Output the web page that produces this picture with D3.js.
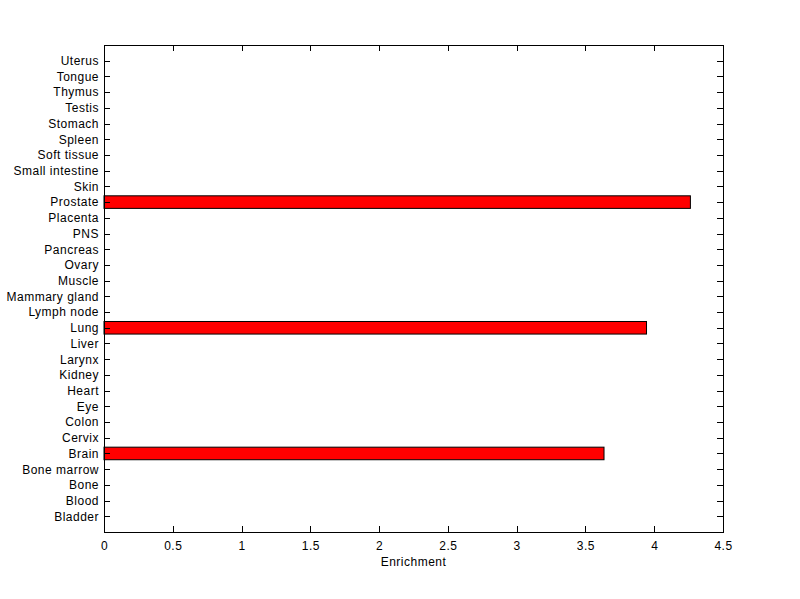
<!DOCTYPE HTML>
<html>
<head>
  <title>Enrichment</title>
  <script src="https://d3js.org/d3.v7.min.js"></script>
  <style>
    body, html {
      margin: 0;
      background: #fff;
    }
    text {
      font-family: "Liberation Sans", Arial, sans-serif;
      font-size: 12px;
      letter-spacing: 0.5px;
      fill: #000;
    }
  </style>
</head>
<body>
<svg id="chart" width="800" height="599"></svg>

<script type="text/javascript">

// Tissues, bottom to top
const tissues = ["Bladder", "Blood", "Bone", "Bone marrow", "Brain", "Cervix", "Colon", "Eye",
  "Heart", "Kidney", "Larynx", "Liver", "Lung", "Lymph node", "Mammary gland", "Muscle",
  "Ovary", "Pancreas", "PNS", "Placenta", "Prostate", "Skin", "Small intestine",
  "Soft tissue", "Spleen", "Stomach", "Testis", "Thymus", "Tongue", "Uterus"];

// Enrichment per tissue (0 = no bar)
const enrichment = [0, 0, 0, 0, 3.635, 0, 0, 0, 0, 0, 0, 0, 3.944, 0, 0, 0,
  0, 0, 0, 0, 4.263, 0, 0, 0, 0, 0, 0, 0, 0, 0];

const xTicks = [0, 0.5, 1, 1.5, 2, 2.5, 3, 3.5, 4, 4.5];

const margin = {left: 104, right: 77, top: 45, bottom: 67};
const width = 800 - margin.left - margin.right;
const height = 599 - margin.top - margin.bottom;

const svg = d3.select("#chart");
const g = svg.append("g")
    .attr("transform", "translate(" + margin.left + "," + margin.top + ")");

const x = d3.scaleLinear().domain([0, 4.5]).range([0, width]);
// positions 1..30 on a 0..31 axis
const y = d3.scaleLinear().domain([0, tissues.length + 1]).range([height, 0]);
const barH = (y(0) - y(1)) * 0.8;

// Bars
g.selectAll(".bar")
    .data(tissues.map((t, i) => ({name: t, value: enrichment[i], pos: i + 1})).filter(d => d.value > 0))
  .enter().append("rect")
    .attr("class", "bar")
    .attr("x", x(0))
    .attr("y", d => y(d.pos) - barH / 2)
    .attr("width", d => x(d.value) - x(0))
    .attr("height", barH)
    .style("fill", "#ff0000")
    .style("stroke", "#000")
    .style("stroke-width", 1);

// Axes (labels only, ticks drawn by hand below)
const tickLen = 6;

const bottomAxis = d3.axisBottom(x).tickValues(xTicks).tickSize(0).tickPadding(9)
    .tickFormat(d3.format("~g"));
const leftAxis = d3.axisLeft(y).tickValues(d3.range(1, tissues.length + 1))
    .tickSize(0).tickPadding(5).tickFormat(d => tissues[d - 1]);

const ax = g.append("g").attr("transform", "translate(0," + height + ")").call(bottomAxis);
const ay = g.append("g").call(leftAxis);
[ax, ay].forEach(a => {
  a.select(".domain").remove();
  // let the stylesheet decide the font
  a.attr("font-family", null).attr("font-size", null);
});

// Inward ticks on all four sides
const ticks = g.append("g").style("stroke", "#000").style("stroke-width", 1);
xTicks.forEach(v => {
  const px = Math.round(x(v)) + 0.5;
  ticks.append("line").attr("x1", px).attr("x2", px).attr("y1", height).attr("y2", height - tickLen);
  ticks.append("line").attr("x1", px).attr("x2", px).attr("y1", 0).attr("y2", tickLen);
});
d3.range(1, tissues.length + 1).forEach(v => {
  const py = Math.round(y(v)) + 0.5;
  ticks.append("line").attr("x1", 0).attr("x2", tickLen).attr("y1", py).attr("y2", py);
  ticks.append("line").attr("x1", width).attr("x2", width - tickLen).attr("y1", py).attr("y2", py);
});

// Frame
g.append("rect")
    .attr("x", 0.5).attr("y", 0.5)
    .attr("width", width).attr("height", height)
    .style("fill", "none").style("stroke", "#000");

// Axis label
g.append("text")
    .attr("x", width / 2)
    .attr("y", height + 34)
    .attr("text-anchor", "middle")
    .text("Enrichment");

</script>
</body>
</html>
